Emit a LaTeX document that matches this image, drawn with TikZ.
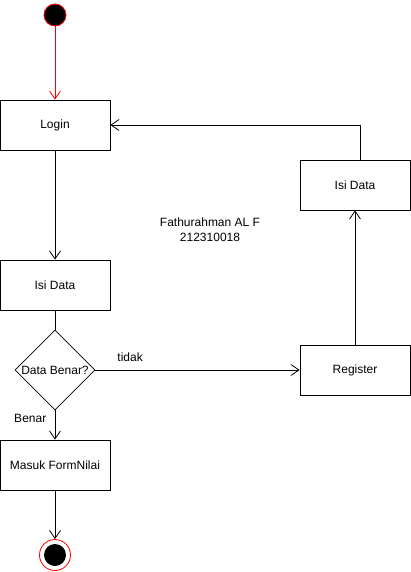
\documentclass[tikz,border=0pt]{standalone}
\usepackage{fontspec}
\setmainfont{Liberation Sans}
\usetikzlibrary{arrows.meta,shapes.geometric}

\begin{document}
\begin{tikzpicture}[x=1pt,y=-1pt,line width=.8pt,font=\fontsize{12}{15}\selectfont,
  kotak/.style={draw,minimum width=110pt,minimum height=50pt,inner sep=0pt},
  cek/.style={draw,diamond,minimum width=80pt,minimum height=80pt,inner sep=0pt},
  panah/.style={-{Straight Barb[length=8pt,width=11pt]}}]
\useasboundingbox(0,0)rectangle(411,572);
\node[circle,draw=red,fill=black,minimum size=22pt,inner sep=0pt](mulai)at(55,15){};
\node[kotak](login)at(55,125){Login};\node[kotak](isi)at(55,285){Isi Data};
\node[cek,label=center:Data Benar?](benar)at(55,370){};
\node[kotak](masuk)at(55,465){Masuk FormNilai};
\node[circle,draw=red,fill=white,minimum size=31pt,inner sep=0pt](selesai)at(55,555){};\fill(selesai)circle(11pt);
\node[kotak](reg)at(355,370){Register};\node[kotak](isi2)at(355,185){Isi Data};
\node[align=center](nama)at(210,230){Fathurahman AL F\\212310018};
\draw[red,panah](mulai)--(login);\draw[panah](login)--(isi);\draw(isi)--(benar);
\draw[panah](benar)--node[pos=.2,anchor=east,xshift=-5pt,yshift=-2pt]{Benar}(masuk);
\draw[panah](masuk)--(selesai);
\draw[panah](benar)--node[pos=.17,above,yshift=5pt]{tidak}(reg);
\draw[panah](reg)--(isi2);\draw[panah]([xshift=5pt]isi2.north)|-(login.east);
\end{tikzpicture}
\end{document}
